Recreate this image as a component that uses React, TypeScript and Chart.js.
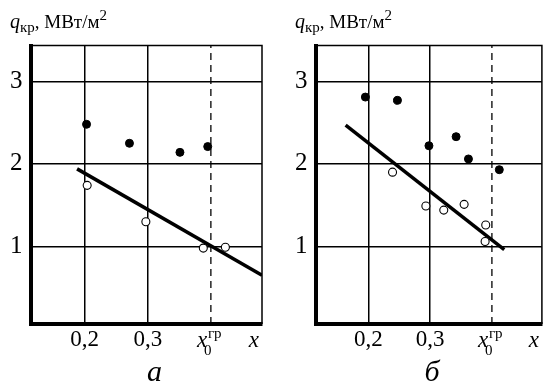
import React, { useEffect, useRef } from "react";
import { Chart, registerables } from "chart.js";

Chart.register(...registerables);

// ---- shared axis data ----
const xTickValues = [0.2, 0.3];
const xTickLabels = ["0,2", "0,3"];
const yTickValues = [1, 2, 3];
const xBoundary = 0.4; // x0^гр
const xAxisLabelValue = 0.468;
const xMin = 0.115;
const xMax = 0.481;
const yMin = 0.06;
const yMax = 3.435;

// ---- panel а ----
const aFilledX = [0.203, 0.271, 0.351, 0.395];
const aFilledY = [2.48, 2.25, 2.14, 2.21];
const aOpenX = [0.204, 0.297, 0.388, 0.423];
const aOpenY = [1.74, 1.3, 0.98, 0.99];
const aLineX = [0.188, 0.481];
const aLineY = [1.94, 0.65];

// ---- panel б ----
const bFilledX = [0.195, 0.247, 0.298, 0.342, 0.362, 0.412];
const bFilledY = [2.81, 2.77, 2.22, 2.33, 2.06, 1.93];
const bOpenX = [0.239, 0.293, 0.322, 0.355, 0.39, 0.389];
const bOpenY = [1.9, 1.49, 1.44, 1.51, 1.26, 1.06];
const bLineX = [0.163, 0.42];
const bLineY = [2.47, 0.96];

const FONT = "'Liberation Serif', 'Times New Roman', serif";

const zip = (xs: number[], ys: number[]) => xs.map((x, i) => ({ x, y: ys[i] }));

type PanelProps = {
  width: number;
  left: number;
  yAxisWidth: number;
  rightPad: number;
  caption: string;
  captionShift: number;
  filledX: number[];
  filledY: number[];
  openX: number[];
  openY: number[];
  lineX: number[];
  lineY: number[];
};

function Panel(p: PanelProps) {
  const ref = useRef<HTMLCanvasElement | null>(null);
  useEffect(() => {
    if (!ref.current) return;
    const decor = {
      id: "decor",
      beforeDatasetsDraw(chart: any) {
        const { ctx, chartArea: a } = chart;
        ctx.save();
        ctx.strokeStyle = "#000";
        ctx.lineWidth = 1.5;
        ctx.beginPath();
        ctx.moveTo(a.left, a.top);
        ctx.lineTo(a.right, a.top);
        ctx.lineTo(a.right, a.bottom);
        ctx.stroke();
        ctx.restore();
      },
      afterDraw(chart: any) {
        const { ctx, chartArea: a, scales } = chart;
        const xs = scales.x;
        ctx.save();
        ctx.fillStyle = "#000";
        ctx.textBaseline = "alphabetic";
        ctx.textAlign = "left";
        // y-axis title: q_кр, МВт/м²
        let x = a.left - 21;
        const by = 28;
        ctx.font = `italic 20px ${FONT}`;
        ctx.fillText("q", x, by);
        x += ctx.measureText("q").width;
        ctx.font = `15px ${FONT}`;
        ctx.fillText("кр", x, by + 4);
        x += ctx.measureText("кр").width;
        ctx.font = `19px ${FONT}`;
        ctx.fillText(",", x, by);
        x += ctx.measureText(", ").width;
        ctx.fillText("МВт/м", x, by);
        x += ctx.measureText("МВт/м").width;
        ctx.font = `15px ${FONT}`;
        ctx.fillText("2", x, by - 8);
        // x0^гр label
        const px0 = xs.getPixelForValue(xBoundary);
        ctx.font = `italic 23px ${FONT}`;
        ctx.fillText("x", px0 - 14, 347);
        ctx.font = `15px ${FONT}`;
        ctx.fillText("0", px0 - 7, 355);
        ctx.fillText("гр", px0 - 3, 338);
        // x axis label
        ctx.font = `italic 23px ${FONT}`;
        ctx.textAlign = "center";
        ctx.fillText("x", xs.getPixelForValue(xAxisLabelValue), 347);
        // caption
        ctx.font = `italic 30px ${FONT}`;
        ctx.fillText(p.caption, (a.left + a.right) / 2 + p.captionShift, 381);
        ctx.restore();
      },
    };

    const chart = new Chart(ref.current, {
      type: "scatter",
      data: {
        datasets: [
          {
            data: zip(p.filledX, p.filledY),
            pointRadius: 4,
            pointBackgroundColor: "#000",
            pointBorderColor: "#000",
            pointBorderWidth: 1,
            showLine: false,
          },
          {
            data: zip(p.openX, p.openY),
            pointRadius: 4,
            pointBackgroundColor: "#fff",
            pointBorderColor: "#000",
            pointBorderWidth: 1.1,
            showLine: false,
          },
          {
            data: zip(p.lineX, p.lineY),
            pointRadius: 0,
            borderColor: "#000",
            borderWidth: 3.5,
            showLine: true,
          },
          {
            data: [
              { x: xBoundary, y: yMin },
              { x: xBoundary, y: yMax },
            ],
            pointRadius: 0,
            borderColor: "#000",
            borderWidth: 1.3,
            borderDash: [7, 5],
            showLine: true,
          },
        ],
      },
      options: {
        responsive: false,
        animation: false,
        events: [],
        layout: { padding: { left: 0, right: p.rightPad, top: 45.5, bottom: 0 } },
        plugins: { legend: { display: false }, tooltip: { enabled: false }, title: { display: false } },
        scales: {
          x: {
            type: "linear",
            min: xMin,
            max: xMax,
            afterBuildTicks: (s: any) => {
              s.ticks = xTickValues.map((v) => ({ value: v }));
            },
            afterFit: (s: any) => {
              s.height = 383 - 324;
            },
            ticks: {
              autoSkip: false,
              maxRotation: 0,
              padding: 2,
              color: "#000",
              font: { family: FONT, size: 23 },
              callback: (v: any) => {
                const i = xTickValues.indexOf(Number(v));
                return i >= 0 ? xTickLabels[i] : "";
              },
            },
            grid: { color: "#000", lineWidth: 1.5, drawTicks: false },
            border: { display: true, color: "#000", width: 4 },
          },
          y: {
            type: "linear",
            min: yMin,
            max: yMax,
            afterBuildTicks: (s: any) => {
              s.ticks = yTickValues.map((v) => ({ value: v }));
            },
            afterFit: (s: any) => {
              s.width = p.yAxisWidth;
            },
            ticks: {
              padding: 8.5,
              color: "#000",
              font: { family: FONT, size: 25 },
              callback: (v: any) => String(v),
            },
            grid: { color: "#000", lineWidth: 1.5, drawTicks: false },
            border: { display: true, color: "#000", width: 4 },
          },
        },
      },
      plugins: [decor],
    } as any);
    return () => chart.destroy();
  }, []);
  return (
    <canvas
      ref={ref}
      width={p.width}
      height={383}
      style={{ position: "absolute", left: p.left, top: 0, width: p.width, height: 383, display: "block" }}
    />
  );
}

export default function App() {
  return (
    <div style={{ position: "absolute", left: 0, top: 0, width: 547, height: 383, background: "#fff", overflow: "hidden" }}>
      <Panel
        width={270}
        left={0}
        yAxisWidth={31}
        rightPad={8}
        caption="а"
        captionShift={8}
        filledX={aFilledX}
        filledY={aFilledY}
        openX={aOpenX}
        openY={aOpenY}
        lineX={aLineX}
        lineY={aLineY}
      />
      <Panel
        width={277}
        left={270}
        yAxisWidth={46}
        rightPad={1}
        caption="б"
        captionShift={3}
        filledX={bFilledX}
        filledY={bFilledY}
        openX={bOpenX}
        openY={bOpenY}
        lineX={bLineX}
        lineY={bLineY}
      />
    </div>
  );
}
